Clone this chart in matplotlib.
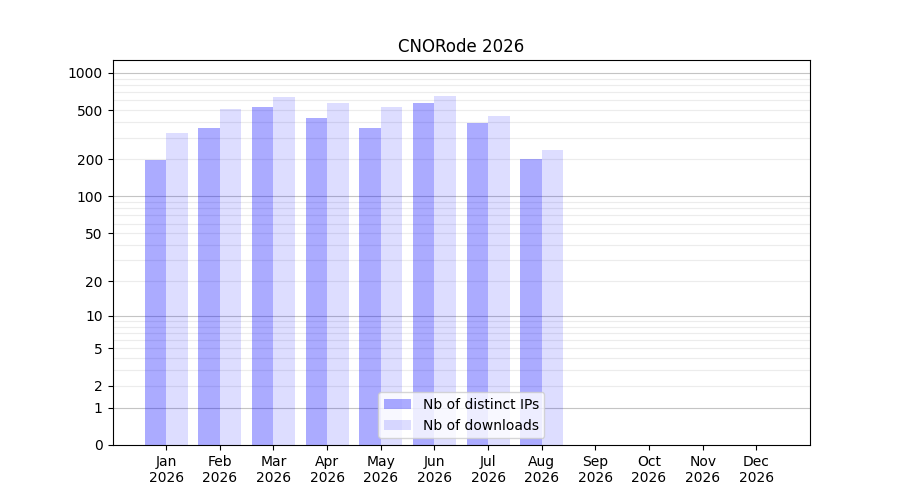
import matplotlib
matplotlib.use("Agg")
import matplotlib.pyplot as plt
import numpy as np

months = ["Jan", "Feb", "Mar", "Apr", "May", "Jun", "Jul", "Aug", "Sep", "Oct", "Nov", "Dec"]
year = "2026"
distinct_ips = [199, 360, 532, 436, 360, 573, 394, 202, 0, 0, 0, 0]
downloads = [328, 512, 640, 573, 532, 652, 449, 238, 0, 0, 0, 0]
ytick_values = [0, 1, 2, 5, 10, 20, 50, 100, 200, 500, 1000]

fig, ax = plt.subplots(figsize=(9, 5), dpi=100)

fwd = lambda v: np.log10(np.asarray(v, dtype=float) + 1)
inv = lambda v: 10 ** np.asarray(v, dtype=float) - 1
ax.set_yscale("function", functions=(fwd, inv))

x = np.arange(len(months))
w = 0.4
ax.bar(x - w / 2, distinct_ips, width=w, color="blue", alpha=0.33, label="Nb of distinct IPs", zorder=2)
ax.bar(x + w / 2, downloads, width=w, color="blue", alpha=0.135, label="Nb of downloads", zorder=2)

# grid lines
for dec in [1, 10, 100, 1000]:
    ax.axhline(dec, color="#c4c4c4", lw=0.8, zorder=1)
for dec in [1, 10, 100]:
    for m in range(2, 10):
        ax.axhline(dec * m, color="#ececec", lw=0.8, zorder=1)

ax.set_yticks(ytick_values)
ax.set_yticklabels([str(v) for v in ytick_values])
ax.minorticks_off()
ax.set_ylim(0, 1270)
ax.set_xlim(-1, 12)
ax.set_xticks(x)
ax.set_xticklabels([f"{m}\n{year}" for m in months])
ax.set_title("CNORode 2026")
ax.legend(loc="lower center")

fig.savefig("out.png", dpi=100)
